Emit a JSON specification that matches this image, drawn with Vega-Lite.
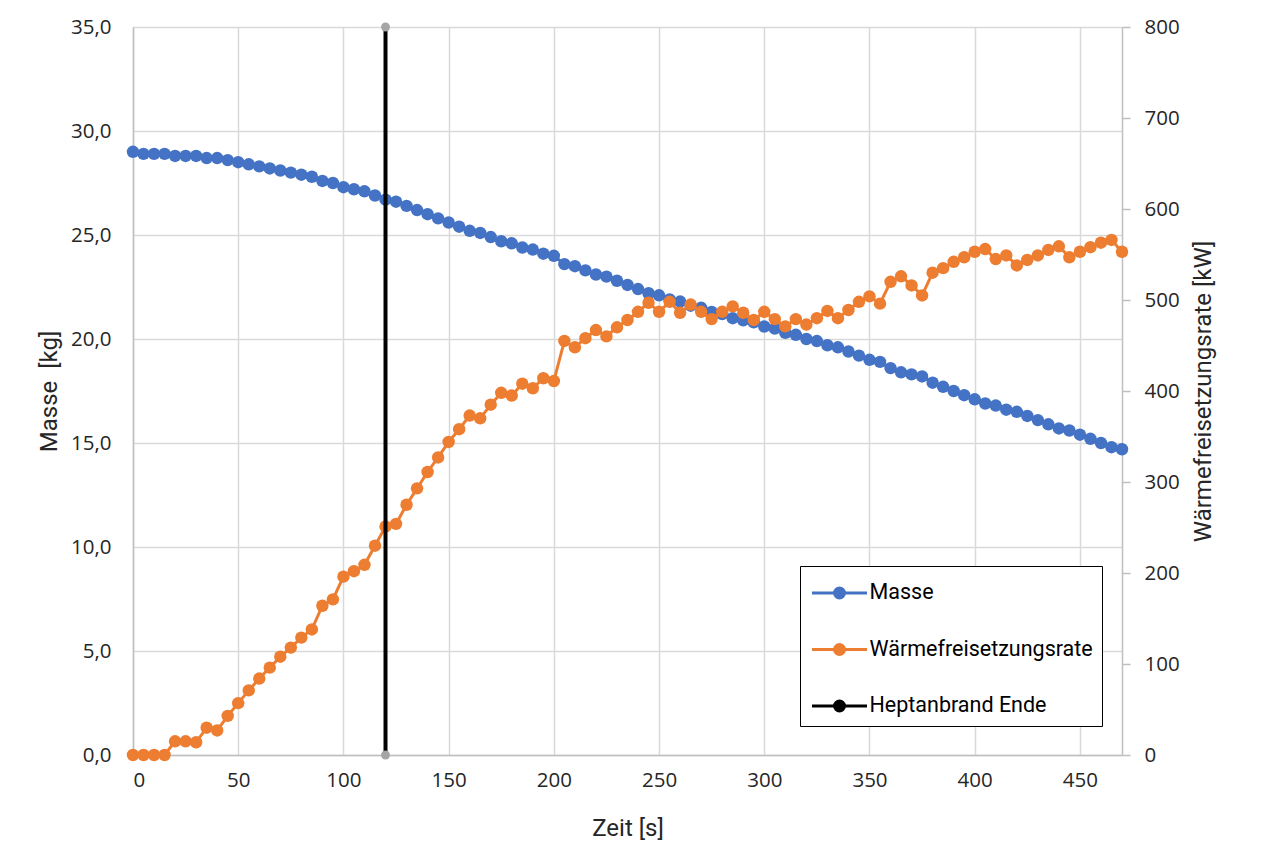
{
  "$schema": "https://vega.github.io/schema/vega-lite/v6.json",
  "width": 989,
  "height": 728,
  "autosize": {"type": "none"},
  "padding": {"left": 133, "top": 27, "right": 154, "bottom": 93},
  "background": "white",
  "config": {
    "view": {"stroke": null},
    "axis": {
      "labelFont": "Open Sans",
      "labelFontSize": 20.5,
      "labelColor": "#262626",
      "titleFont": "Roboto",
      "titleFontSize": 24,
      "titleFontWeight": "normal",
      "titleColor": "#262626",
      "gridColor": "#D9D9D9",
      "gridWidth": 1.5,
      "domainColor": "#BFBFBF",
      "domainWidth": 1.5,
      "tickColor": "#BFBFBF",
      "tickWidth": 1.5
    }
  },
  "datasets": {
    "masse": [
      {"t":0,"m":29.0},{"t":5,"m":28.9},{"t":10,"m":28.9},{"t":15,"m":28.9},{"t":20,"m":28.8},{"t":25,"m":28.8},{"t":30,"m":28.8},{"t":35,"m":28.7},{"t":40,"m":28.7},{"t":45,"m":28.6},
      {"t":50,"m":28.5},{"t":55,"m":28.4},{"t":60,"m":28.3},{"t":65,"m":28.2},{"t":70,"m":28.1},{"t":75,"m":28.0},{"t":80,"m":27.9},{"t":85,"m":27.8},{"t":90,"m":27.6},{"t":95,"m":27.5},
      {"t":100,"m":27.3},{"t":105,"m":27.2},{"t":110,"m":27.1},{"t":115,"m":26.9},{"t":120,"m":26.7},{"t":125,"m":26.6},{"t":130,"m":26.4},{"t":135,"m":26.2},{"t":140,"m":26.0},{"t":145,"m":25.8},
      {"t":150,"m":25.6},{"t":155,"m":25.4},{"t":160,"m":25.2},{"t":165,"m":25.1},{"t":170,"m":24.9},{"t":175,"m":24.7},{"t":180,"m":24.6},{"t":185,"m":24.4},{"t":190,"m":24.3},{"t":195,"m":24.1},
      {"t":200,"m":24.0},{"t":205,"m":23.6},{"t":210,"m":23.5},{"t":215,"m":23.3},{"t":220,"m":23.1},{"t":225,"m":23.0},{"t":230,"m":22.8},{"t":235,"m":22.6},{"t":240,"m":22.4},{"t":245,"m":22.2},
      {"t":250,"m":22.1},{"t":255,"m":21.9},{"t":260,"m":21.8},{"t":265,"m":21.6},{"t":270,"m":21.5},{"t":275,"m":21.3},{"t":280,"m":21.2},{"t":285,"m":21.0},{"t":290,"m":20.9},{"t":295,"m":20.8},
      {"t":300,"m":20.6},{"t":305,"m":20.5},{"t":310,"m":20.3},{"t":315,"m":20.2},{"t":320,"m":20.0},{"t":325,"m":19.9},{"t":330,"m":19.7},{"t":335,"m":19.6},{"t":340,"m":19.4},{"t":345,"m":19.2},
      {"t":350,"m":19.0},{"t":355,"m":18.9},{"t":360,"m":18.6},{"t":365,"m":18.4},{"t":370,"m":18.3},{"t":375,"m":18.2},{"t":380,"m":17.9},{"t":385,"m":17.7},{"t":390,"m":17.5},{"t":395,"m":17.3},
      {"t":400,"m":17.1},{"t":405,"m":16.9},{"t":410,"m":16.8},{"t":415,"m":16.6},{"t":420,"m":16.5},{"t":425,"m":16.3},{"t":430,"m":16.1},{"t":435,"m":15.9},{"t":440,"m":15.7},{"t":445,"m":15.6},
      {"t":450,"m":15.4},{"t":455,"m":15.2},{"t":460,"m":15.0},{"t":465,"m":14.8},{"t":470,"m":14.7}
    ],
    "hrr": [
      {"t":0,"q":0},{"t":5,"q":0},{"t":10,"q":0},{"t":15,"q":0},{"t":20,"q":15},{"t":25,"q":15},{"t":30,"q":14},{"t":35,"q":30},{"t":40,"q":27},{"t":45,"q":43},
      {"t":50,"q":57},{"t":55,"q":71},{"t":60,"q":84},{"t":65,"q":96},{"t":70,"q":108},{"t":75,"q":118},{"t":80,"q":129},{"t":85,"q":138},{"t":90,"q":164},{"t":95,"q":171},
      {"t":100,"q":196},{"t":105,"q":202},{"t":110,"q":209},{"t":115,"q":230},{"t":120,"q":251},{"t":125,"q":254},{"t":130,"q":275},{"t":135,"q":293},{"t":140,"q":311},{"t":145,"q":327},
      {"t":150,"q":344},{"t":155,"q":358},{"t":160,"q":373},{"t":165,"q":370},{"t":170,"q":385},{"t":175,"q":398},{"t":180,"q":395},{"t":185,"q":408},{"t":190,"q":403},{"t":195,"q":414},
      {"t":200,"q":411},{"t":205,"q":455},{"t":210,"q":448},{"t":215,"q":458},{"t":220,"q":467},{"t":225,"q":460},{"t":230,"q":470},{"t":235,"q":478},{"t":240,"q":487},{"t":245,"q":497},
      {"t":250,"q":487},{"t":255,"q":498},{"t":260,"q":486},{"t":265,"q":495},{"t":270,"q":487},{"t":275,"q":479},{"t":280,"q":487},{"t":285,"q":493},{"t":290,"q":486},{"t":295,"q":478},
      {"t":300,"q":487},{"t":305,"q":479},{"t":310,"q":471},{"t":315,"q":479},{"t":320,"q":473},{"t":325,"q":480},{"t":330,"q":488},{"t":335,"q":480},{"t":340,"q":489},{"t":345,"q":498},
      {"t":350,"q":504},{"t":355,"q":496},{"t":360,"q":520},{"t":365,"q":526},{"t":370,"q":516},{"t":375,"q":505},{"t":380,"q":530},{"t":385,"q":535},{"t":390,"q":542},{"t":395,"q":547},
      {"t":400,"q":553},{"t":405,"q":556},{"t":410,"q":545},{"t":415,"q":549},{"t":420,"q":538},{"t":425,"q":544},{"t":430,"q":549},{"t":435,"q":555},{"t":440,"q":559},{"t":445,"q":547},
      {"t":450,"q":553},{"t":455,"q":558},{"t":460,"q":563},{"t":465,"q":566},{"t":470,"q":553}
    ],
    "heptan": [{"t":120,"q":0},{"t":120,"q":800}]
  },
  "layer": [
    {
      "data": {"name": "masse"},
      "mark": {"type": "line", "strokeWidth": 3, "point": {"filled": true, "size": 155, "opacity": 1}},
      "encoding": {
        "x": {
          "field": "t", "type": "quantitative",
          "scale": {"domain": [0, 470], "nice": false},
          "axis": {"title": "Zeit [s]", "values": [0,50,100,150,200,250,300,350,400,450], "ticks": false, "labelPadding": 15, "titlePadding": 26, "grid": true}
        },
        "y": {
          "field": "m", "type": "quantitative",
          "scale": {"domain": [0, 35], "nice": false},
          "axis": {"title": "Masse\u00a0 [kg]", "orient": "left", "values": [0,5,10,15,20,25,30,35], "ticks": false, "labelPadding": 22, "titlePadding": 9, "grid": true,
                   "labelExpr": "replace(format(datum.value, '.1f'), '.', ',')"}
        },
        "color": {
          "datum": "Masse",
          "scale": {"domain": ["Masse", "Wärmefreisetzungsrate", "Heptanbrand Ende"], "range": ["#4472C4", "#ED7D31", "#000000"]},
          "legend": {
            "title": null,
            "orient": "none",
            "legendX": 667,
            "legendY": 539,
            "strokeColor": "#000000",
            "fillColor": "#FFFFFF",
            "padding": 9,
            "labelFont": "Roboto",
            "labelFontSize": 21.5,
            "labelColor": "#000000",
            "labelLimit": 400,
            "symbolType": "M-1.667,0L-0.303,0M0.303,0L1.667,0M-0.303,0A0.303,0.303,0,1,1,0.303,0A0.303,0.303,0,1,1,-0.303,0Z",
            "symbolSize": 1089,
            "symbolStrokeWidth": 3,
            "symbolOffset": 12.5,
            "labelOffset": 12,
            "rowPadding": 27.5
          }
        }
      }
    },
    {
      "layer": [
        {
          "data": {"name": "hrr"},
          "mark": {"type": "line", "strokeWidth": 3, "point": {"filled": true, "size": 155, "opacity": 1}},
          "encoding": {
            "x": {"field": "t", "type": "quantitative"},
            "y": {
              "field": "q", "type": "quantitative",
              "scale": {"domain": [0, 800], "nice": false},
              "axis": {"title": "Wärmefreisetzungsrate [kW]", "orient": "right", "values": [0,100,200,300,400,500,600,700,800], "grid": false, "ticks": true, "tickSize": 8, "labelPadding": 14, "titlePadding": 36, "titleAngle": 270}
            },
            "color": {"datum": "Wärmefreisetzungsrate"}
          }
        },
        {
          "data": {"name": "heptan"},
          "mark": {"type": "line", "strokeWidth": 4},
          "encoding": {
            "x": {"field": "t", "type": "quantitative"},
            "y": {"field": "q", "type": "quantitative"},
            "color": {"datum": "Heptanbrand Ende"}
          }
        },
        {
          "data": {"name": "heptan"},
          "mark": {"type": "point", "filled": true, "size": 80, "color": "#A5A5A5", "opacity": 1},
          "encoding": {
            "x": {"field": "t", "type": "quantitative"},
            "y": {"field": "q", "type": "quantitative"}
          }
        }
      ]
    }
  ],
  "resolve": {"scale": {"y": "independent"}}
}
